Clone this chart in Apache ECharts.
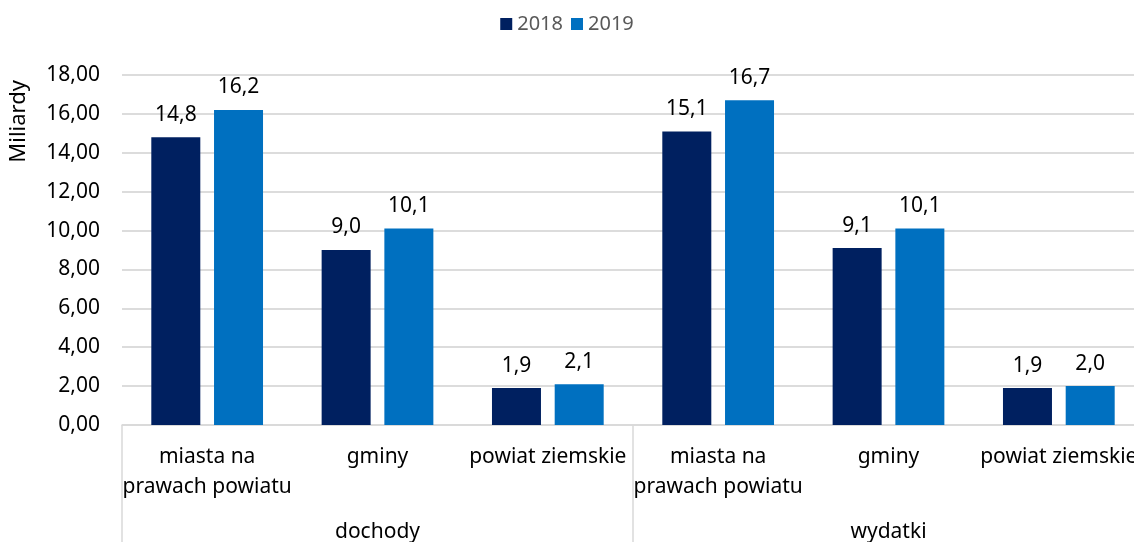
<!DOCTYPE html>
<html>
<head>
<meta charset="utf-8">
<script src="https://cdn.jsdelivr.net/npm/echarts@6/dist/echarts.min.js"></script>
<style>html,body{margin:0;padding:0;background:#fff}#c{width:1134px;height:542px}</style>
</head>
<body>
<div id="c"></div>
<script>
const categories = ['miasta na\nprawach powiatu', 'gminy', 'powiat ziemskie', 'miasta na\nprawach powiatu', 'gminy', 'powiat ziemskie'];
const groups = ['dochody', 'wydatki'];
const seriesNames = ['2018', '2019'];
const values2018 = [14.8, 9.0, 1.9, 15.1, 9.1, 1.9];
const values2019 = [16.2, 10.1, 2.1, 16.7, 10.1, 2.0];

const FONT = 'Noto Sans';
const chart = echarts.init(document.getElementById('c'));
const lbl = {
  show: true, position: 'top', distance: 12, color: '#000', fontFamily: FONT, fontSize: 21,
  formatter: p => p.value.toFixed(1).replace('.', ',')
};
chart.setOption({
  animation: false,
  textStyle: { fontFamily: FONT },
  legend: {
    top: 9, left: 'center', itemWidth: 12, itemHeight: 12, itemGap: 8,
    icon: 'rect',
    textStyle: { color: '#595959', fontSize: 20, fontFamily: FONT },
    data: seriesNames
  },
  grid: { left: 122, width: 1022, top: 75, bottom: 117, containLabel: false, outerBoundsMode: 'none' },
  graphic: [{
    type: 'text', left: 8, top: 80, rotation: Math.PI / 2,
    style: { text: 'Miliardy', font: '22px "Noto Sans"', fill: '#000' }
  }],
  xAxis: [{
    type: 'category', data: categories, position: 'bottom',
    axisLine: { show: true, lineStyle: { color: '#d9d9d9', width: 1.5 } },
    axisTick: { show: false },
    axisLabel: { interval: 0, margin: 17, color: '#000', fontSize: 21, lineHeight: 30,
      verticalAlign: 'top', fontFamily: FONT, hideOverlap: false }
  }, {
    type: 'category', data: groups, position: 'bottom',
    axisLine: { show: false },
    axisTick: { show: true, length: 120, lineStyle: { color: '#d9d9d9', width: 1.5 } },
    axisLabel: { margin: 97, color: '#000', fontSize: 21, fontFamily: FONT }
  }],
  yAxis: {
    type: 'value', min: 0, max: 18, interval: 2,
    axisLine: { show: false }, axisTick: { show: false },
    splitLine: { lineStyle: { color: '#d0d0d0', width: 1.5 } },
    axisLabel: { margin: 22, color: '#000', fontSize: 21, fontFamily: FONT,
      formatter: v => v.toFixed(2).replace('.', ',') }
  },
  series: [{
    name: seriesNames[0], type: 'bar', data: values2018, barWidth: 49, barGap: '28%',
    itemStyle: { color: '#002060' }, label: lbl
  }, {
    name: seriesNames[1], type: 'bar', data: values2019, barWidth: 49, barGap: '28%',
    itemStyle: { color: '#0070c0' }, label: lbl
  }]
});
</script>
</body>
</html>
